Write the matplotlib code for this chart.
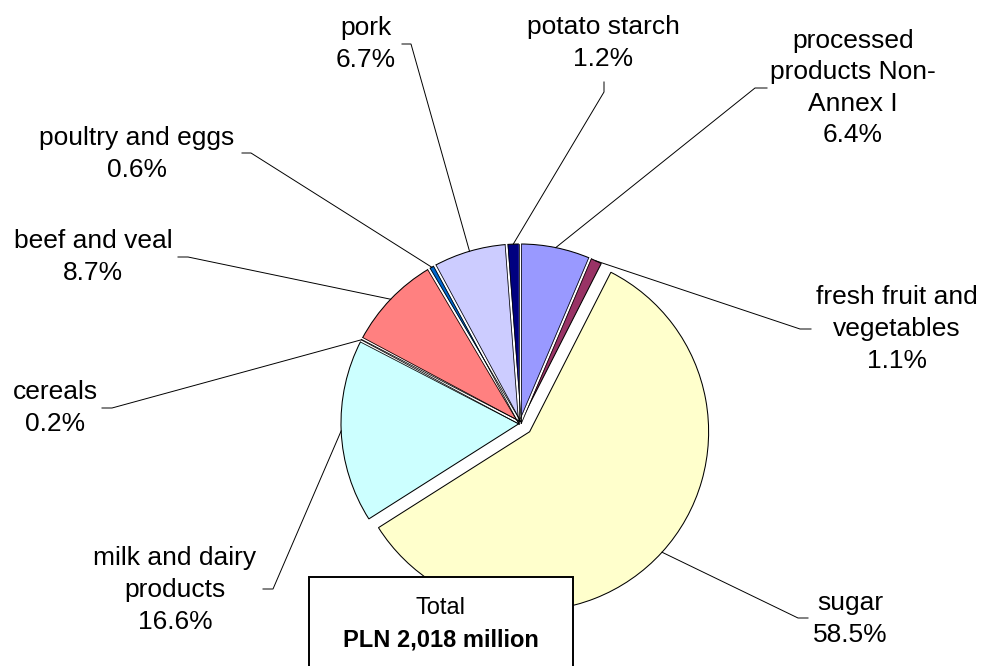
import numpy as np
import matplotlib
matplotlib.use('Agg')
from matplotlib import pyplot as plt
from matplotlib.patches import Rectangle

plt.rcParams['font.family'] = ['Liberation Sans', 'DejaVu Sans']

# data, in the order drawn clockwise from 12 o'clock
names = ['processed\nproducts Non-\nAnnex I', 'fresh fruit and\nvegetables', 'sugar',
         'milk and dairy\nproducts', 'cereals', 'beef and veal', 'poultry and eggs',
         'pork', 'potato starch']
shares = [6.4, 1.1, 58.5, 16.6, 0.2, 8.7, 0.6, 6.7, 1.2]
colors = ['#9999FF', '#993366', '#FFFFCC', '#CCFFFF', '#660066',
          '#FF8080', '#0066CC', '#CCCCFF', '#000080']
total_label = 'PLN 2,018 million'

W, H = 981, 666

# layout in pixels (y measured from the top)
CX, CY, R = 520, 423, 179
EXPLODE = 13
label_pos = [(853, 88), (897, 329), (850, 619), (175, 590), (55, 408),
             (93, 257), (137, 154), (366, 44), (603, 43)]
tick_pts = [((767, 88), (755, 88)), ((811, 329), (800, 329)),
            ((808, 618), (798, 618)), ((263, 589), (273, 589)),
            ((102, 408), (112, 408)), ((178, 257), (188, 257)),
            ((242, 153), (251, 153)), ((402, 44), (411, 44)),
            ((604, 82), (604, 92))]


def py(y):
    return H - y


fig = plt.figure(figsize=(W / 100, H / 100), dpi=100)
ax = fig.add_axes([0, 0, 1, 1])

explode = [EXPLODE if n == 'sugar' else 0 for n in names]
wedges, _ = ax.pie(shares, colors=colors, startangle=90, counterclock=False,
                   radius=R, center=(CX, py(CY)), explode=explode,
                   wedgeprops=dict(edgecolor='black', linewidth=0.75))
ax.set_xlim(0, W)
ax.set_ylim(0, H)
ax.axis('off')

# white gaps between the slices that are not pulled out
n = len(wedges)
for i in range(n):
    j = (i + 1) % n
    if explode[i] or explode[j]:
        continue
    th = np.radians(wedges[i].theta1)
    u = np.array([np.cos(th), np.sin(th)])
    nv = np.array([-np.sin(th), np.cos(th)])
    c = np.array([CX, py(CY)])
    p0, p1 = c, c + (R + 1) * u
    ax.plot([p0[0], p1[0]], [p0[1], p1[1]], color='white', lw=1.6,
            solid_capstyle='butt', zorder=3)
    for s in (-1.4, 1.4):
        q0, q1 = c + s * nv, c + R * u + s * nv
        ax.plot([q0[0], q1[0]], [q0[1], q1[1]], color='black', lw=0.55, zorder=4)

# labels with leader lines
for w, name, v, pos, tk in zip(wedges, names, shares, label_pos, tick_pts):
    th = np.radians((w.theta1 + w.theta2) / 2)
    ex = w.center[0] + w.r * np.cos(th)
    ey = w.center[1] + w.r * np.sin(th)
    ax.plot([tk[0][0], tk[1][0], ex], [py(tk[0][1]), py(tk[1][1]), ey],
            color='black', lw=0.7, zorder=5)
    ax.text(pos[0], py(pos[1]), f'{name}\n{v:.1f}%', ha='center', va='center',
            multialignment='center', fontsize=19, linespacing=1.4, zorder=6)

# total box
ax.add_patch(Rectangle((309, py(H + 5)), 573 - 309, H + 5 - 577, facecolor='white',
                       edgecolor='black', lw=1.4, zorder=7, clip_on=False))
ax.text(441, py(608), 'Total', ha='center', va='center', fontsize=17, zorder=8)
ax.text(441, py(640), total_label, ha='center', va='center', fontsize=17,
        fontweight='bold', zorder=8)

fig.savefig('out.png', dpi=100)
